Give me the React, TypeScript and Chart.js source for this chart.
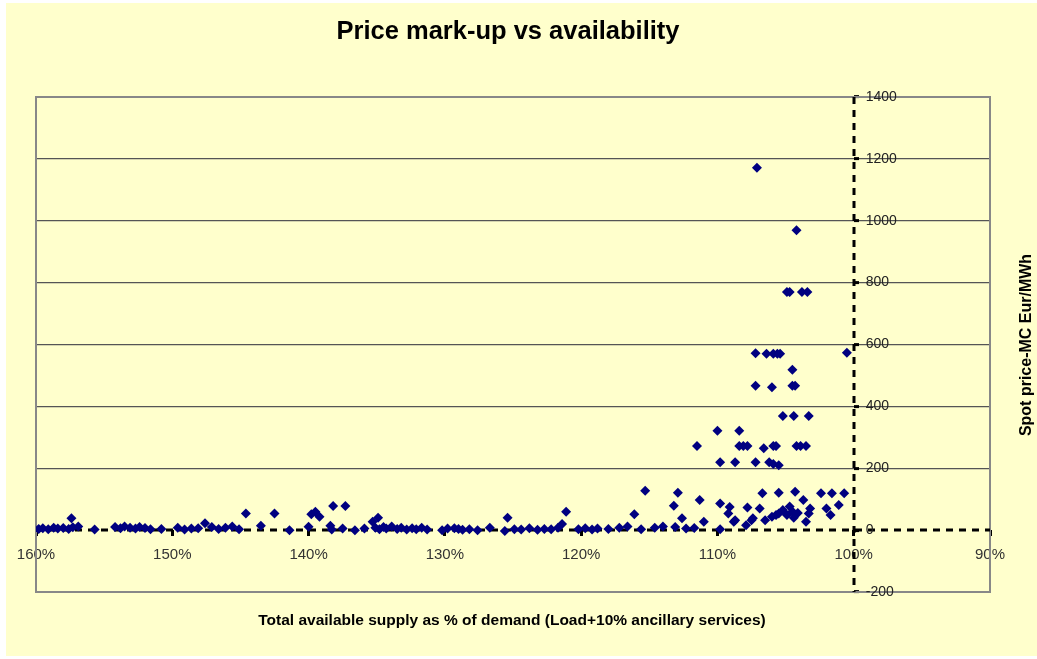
import React, { useEffect, useRef } from 'react';
import { Chart, registerables } from 'chart.js';

Chart.register(...registerables);

// Total available supply as % of demand
const availability: number[] = [
  159.8, 159.5, 159.1, 158.7, 158.4, 158.0, 157.6, 157.4, 157.3, 156.9,
  155.7, 154.2, 153.8, 153.5, 153.1, 152.7, 152.4, 152.0, 151.6, 150.8,
  149.6, 149.1, 148.6, 148.1, 147.6, 147.1, 146.6, 146.1, 145.6, 145.1,
  144.6, 143.5, 142.5, 141.4, 140.0, 139.8, 139.5, 139.2, 138.2, 138.4,
  138.3, 137.3, 137.5, 136.6, 135.9, 135.3, 134.9, 135.1, 134.8, 134.5,
  134.3, 133.9, 133.5, 133.2, 132.8, 132.4, 132.1, 131.7, 131.3, 130.2,
  129.8, 129.3, 129.0, 128.7, 128.2, 127.6, 126.7, 125.6, 125.4, 124.9,
  124.4, 123.8, 123.2, 122.7, 122.2, 121.7, 121.4, 121.1, 120.2, 119.7,
  119.2, 118.8, 118.0, 117.2, 116.6, 116.1, 115.6, 115.3, 114.6, 114.0,
  113.1, 113.2, 112.9, 112.6, 112.3, 111.7, 111.3, 111.0, 109.8, 109.8,
  109.1, 109.2, 108.7, 108.8, 107.8, 107.9, 107.5, 107.4, 106.9, 106.7,
  106.5, 106.0, 105.7, 105.5, 105.5, 105.2, 104.9, 104.7, 104.5, 104.4,
  104.3, 104.1, 103.7, 103.5, 103.3, 103.2, 102.4, 102.0, 101.6, 101.7,
  101.1, 100.7,
  110.0, 108.4, 111.5, 108.4, 108.1, 107.8, 106.6, 105.9, 105.7, 104.2,
  103.9, 103.5, 109.8, 108.7, 107.2, 106.2, 105.9, 105.5, 105.2, 104.4,
  103.3, 107.2, 106.0, 104.5, 104.3, 104.5, 107.2, 106.4, 105.9, 105.6,
  105.4, 100.5, 104.9, 104.7, 103.8, 103.4, 104.2, 107.1,
];

// Spot price - MC, Eur/MWh
const markup: number[] = [
  4, 6, 3, 8, 5, 7, 4, 38, 9, 12,
  2, 10, 6, 12, 8, 5, 10, 7, 3, 4,
  8, 2, 5, 6, 22, 10, 4, 8, 12, 3,
  54, 14, 54, 0, 11, 51, 59, 43, 78, 14,
  2, 78, 5, 0, 5, 27, 40, 8, 3, 10,
  5, 12, 4, 8, 2, 6, 3, 8, 2, 0,
  5, 6, 4, 1, 3, 0, 8, -3, 40, 3,
  2, 6, 1, 4, 3, 8, 20, 59, 3, 6,
  2, 5, 4, 8, 12, 51, 3, 127, 8, 12,
  10, 79, 121, 38, 5, 7, 97, 27, 3, 86,
  75, 54, 32, 27, 73, 16, 32, 38, 70, 119,
  32, 43, 49, 54, 121, 65, 49, 76, 60, 40,
  124, 55, 97, 27, 54, 70, 119, 70, 119, 49,
  81, 119,
  321, 321, 272, 272, 272, 272, 265, 272, 272, 272,
  272, 272, 219, 219, 219, 219, 214, 210, 369, 369,
  369, 467, 462, 467, 467, 518, 572, 570, 570, 570,
  570, 573, 770, 770, 770, 770, 969, 1171,
];

const xTickValues: number[] = [160, 150, 140, 130, 120, 110, 100, 90];
const yTickValues: number[] = [-200, 0, 200, 400, 600, 800, 1000, 1200, 1400];
const xCross = 100; // value of x where the y axis is drawn
const yCross = 0; // value of y where the x axis is drawn

const chartTitle = 'Price mark-up vs availability';
const xAxisTitle = 'Total available supply as % of demand (Load+10% ancillary services)';
const yAxisTitle = 'Spot price-MC Eur/MWh';

const FONT = '"Liberation Sans", Arial, sans-serif';

const overlayPlugin = {
  id: 'overlay',
  beforeDatasetsDraw(chart: any) {
    const { ctx, chartArea } = chart;
    const xs = chart.scales.x;
    const ys = chart.scales.y;
    ctx.save();
    // plot-area frame
    ctx.strokeStyle = '#888888';
    ctx.lineWidth = 2;
    ctx.strokeRect(chartArea.left, chartArea.top, chartArea.right - chartArea.left, chartArea.bottom - chartArea.top);
    // dashed crossing axes
    ctx.strokeStyle = '#000';
    ctx.lineWidth = 3;
    ctx.setLineDash([7, 6]);
    const y0 = Math.round(ys.getPixelForValue(yCross));
    ctx.beginPath();
    ctx.moveTo(chartArea.left, y0);
    ctx.lineTo(chartArea.right, y0);
    ctx.stroke();
    const x0 = Math.round(xs.getPixelForValue(xCross));
    ctx.beginPath();
    ctx.moveTo(x0, chartArea.top);
    ctx.lineTo(x0, chartArea.bottom);
    ctx.stroke();
    ctx.restore();
  },
  afterDraw(chart: any) {
    const { ctx } = chart;
    const xs = chart.scales.x;
    const ys = chart.scales.y;
    ctx.save();
    // y tick labels to the right of the crossing axis
    const axisX = xs.getPixelForValue(xCross);
    ctx.font = `14px ${FONT}`;
    ctx.fillStyle = '#222';
    ctx.textAlign = 'left';
    ctx.textBaseline = 'middle';
    ys.ticks.forEach((t: any) => {
      ctx.fillText(String(t.value), axisX + 12, ys.getPixelForValue(t.value));
    });
    // chart title
    ctx.fillStyle = '#000';
    ctx.textAlign = 'center';
    ctx.font = `bold 25.5px ${FONT}`;
    ctx.fillText(chartTitle, 502, 29);
    // x axis title
    ctx.font = `bold 15.5px ${FONT}`;
    ctx.fillText(xAxisTitle, 506, 618);
    // y axis title
    ctx.translate(1021, 342);
    ctx.rotate(-Math.PI / 2);
    ctx.font = `bold 16px ${FONT}`;
    ctx.fillText(yAxisTitle, 0, 0);
    ctx.restore();
  },
};

export default function App() {
  const canvasRef = useRef<HTMLCanvasElement | null>(null);

  useEffect(() => {
    if (!canvasRef.current) return;
    const points = availability.map((x, i) => ({ x, y: markup[i] }));
    const chart = new Chart(canvasRef.current, {
      type: 'scatter',
      data: {
        datasets: [
          {
            label: 'Mark-up',
            data: points,
            pointStyle: 'rectRot',
            pointRadius: 5,
            pointHoverRadius: 5,
            backgroundColor: '#000080',
            borderColor: '#000080',
            borderWidth: 0,
          },
        ],
      },
      options: {
        responsive: false,
        animation: false,
        layout: { padding: { left: 30, right: 47, top: 94, bottom: 64 } },
        plugins: {
          legend: { display: false },
          title: { display: false },
          tooltip: { enabled: false },
        },
        scales: {
          x: {
            type: 'linear',
            min: 90,
            max: 160,
            reverse: true,
            position: { y: yCross } as any,
            afterBuildTicks: (scale: any) => {
              scale.ticks = xTickValues.map((v) => ({ value: v }));
            },
            ticks: {
              callback: (v: any) => `${v}%`,
              font: { family: FONT, size: 15 },
              color: '#333',
              padding: 10,
              maxRotation: 0,
              autoSkip: false,
            },
            grid: {
              drawOnChartArea: false,
              drawTicks: true,
              tickLength: 6,
              tickColor: '#000',
              tickWidth: 3,
            },
            border: { display: false },
          },
          y: {
            type: 'linear',
            min: -200,
            max: 1400,
            position: { x: xCross } as any,
            afterBuildTicks: (scale: any) => {
              scale.ticks = yTickValues.map((v) => ({ value: v }));
            },
            ticks: { display: false },
            grid: {
              color: (c: any) => (c.tick && c.tick.value === yCross ? 'rgba(0,0,0,0)' : '#555555'),
              lineWidth: 1.2,
              drawTicks: true,
              tickLength: -5,
              tickColor: '#000',
              tickWidth: 3,
            },
            border: { display: false },
          },
        },
      },
      plugins: [overlayPlugin],
    });
    return () => chart.destroy();
  }, []);

  return (
    <div
      style={{
        position: 'absolute',
        left: 6,
        top: 3,
        width: 1031,
        height: 653,
        background: '#FFFFCC',
      }}
    >
      <canvas ref={canvasRef} width={1031} height={653} style={{ display: 'block' }} />
    </div>
  );
}
